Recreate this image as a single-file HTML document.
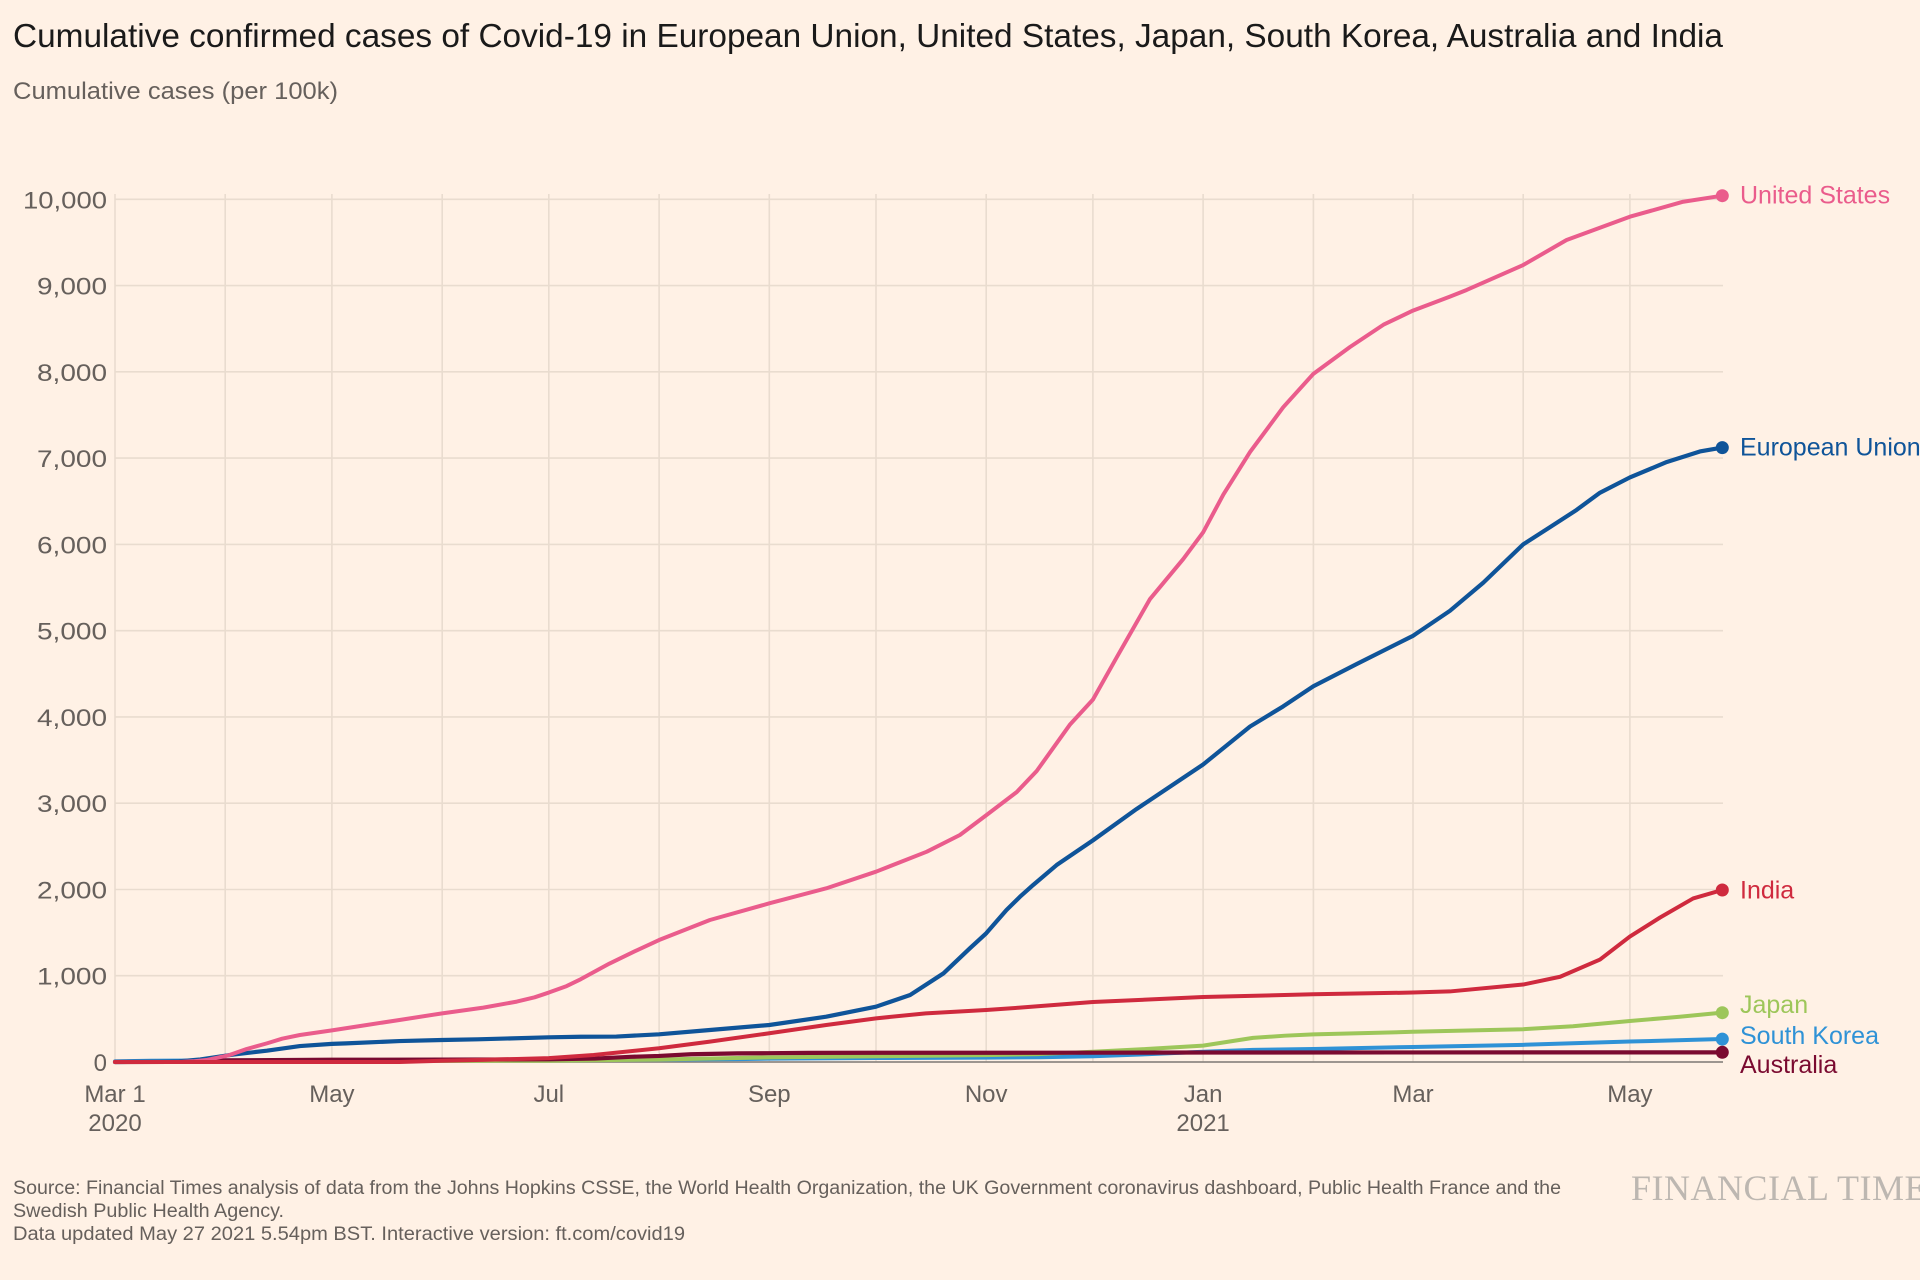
<!DOCTYPE html>
<html>
<head>
<meta charset="utf-8">
<style>
  html,body{margin:0;padding:0;background:#fff1e5;}
  svg{display:block;}
  .sans{font-family:"Liberation Sans",Arial,sans-serif;}
  .serif{font-family:"Liberation Serif","Times New Roman",serif;}
</style>
</head>
<body>
<svg width="1920" height="1280" viewBox="0 0 1920 1280" xmlns="http://www.w3.org/2000/svg">
  <rect x="0" y="0" width="1920" height="1280" fill="#fff1e5"/>

  <!-- Title -->
  <text class="sans" x="13" y="47" font-size="33" fill="#1a1a1a" textLength="1710" lengthAdjust="spacingAndGlyphs">Cumulative confirmed cases of Covid-19 in European Union, United States, Japan, South Korea, Australia and India</text>
  <text class="sans" x="13" y="99" font-size="24" fill="#66605c" textLength="325" lengthAdjust="spacingAndGlyphs">Cumulative cases (per 100k)</text>

  <!-- Horizontal gridlines -->
  <g stroke="#e9dccf" stroke-width="1.6">
    <line x1="115" x2="1723" y1="975.7" y2="975.7"/>
    <line x1="115" x2="1723" y1="889.5" y2="889.5"/>
    <line x1="115" x2="1723" y1="803.2" y2="803.2"/>
    <line x1="115" x2="1723" y1="716.9" y2="716.9"/>
    <line x1="115" x2="1723" y1="630.7" y2="630.7"/>
    <line x1="115" x2="1723" y1="544.4" y2="544.4"/>
    <line x1="115" x2="1723" y1="458.1" y2="458.1"/>
    <line x1="115" x2="1723" y1="371.8" y2="371.8"/>
    <line x1="115" x2="1723" y1="285.6" y2="285.6"/>
    <line x1="115" x2="1723" y1="199.3" y2="199.3"/>
  </g>
  <!-- Vertical gridlines -->
  <g stroke="#e9dccf" stroke-width="1.6">
    <line x1="115" x2="115" y1="194" y2="1062"/>
    <line x1="225.2" x2="225.2" y1="194" y2="1062"/>
    <line x1="331.9" x2="331.9" y1="194" y2="1062"/>
    <line x1="442.2" x2="442.2" y1="194" y2="1062"/>
    <line x1="548.8" x2="548.8" y1="194" y2="1062"/>
    <line x1="659.1" x2="659.1" y1="194" y2="1062"/>
    <line x1="769.3" x2="769.3" y1="194" y2="1062"/>
    <line x1="876.0" x2="876.0" y1="194" y2="1062"/>
    <line x1="986.2" x2="986.2" y1="194" y2="1062"/>
    <line x1="1092.9" x2="1092.9" y1="194" y2="1062"/>
    <line x1="1203.1" x2="1203.1" y1="194" y2="1062"/>
    <line x1="1313.4" x2="1313.4" y1="194" y2="1062"/>
    <line x1="1413.0" x2="1413.0" y1="194" y2="1062"/>
    <line x1="1523.2" x2="1523.2" y1="194" y2="1062"/>
    <line x1="1629.9" x2="1629.9" y1="194" y2="1062"/>
  </g>
  <!-- Zero axis -->
  <line x1="115" x2="1723" y1="1062" y2="1062" stroke="#8f8983" stroke-width="1.8"/>

  <!-- Y tick labels -->
  <g class="sans" font-size="24" fill="#66605c" text-anchor="end">
    <text x="107" y="208.3" textLength="84" lengthAdjust="spacingAndGlyphs">10,000</text>
    <text x="107" y="294.6" textLength="70" lengthAdjust="spacingAndGlyphs">9,000</text>
    <text x="107" y="380.8" textLength="70" lengthAdjust="spacingAndGlyphs">8,000</text>
    <text x="107" y="467.1" textLength="70" lengthAdjust="spacingAndGlyphs">7,000</text>
    <text x="107" y="553.4" textLength="70" lengthAdjust="spacingAndGlyphs">6,000</text>
    <text x="107" y="639.7" textLength="70" lengthAdjust="spacingAndGlyphs">5,000</text>
    <text x="107" y="725.9" textLength="70" lengthAdjust="spacingAndGlyphs">4,000</text>
    <text x="107" y="812.2" textLength="70" lengthAdjust="spacingAndGlyphs">3,000</text>
    <text x="107" y="898.5" textLength="70" lengthAdjust="spacingAndGlyphs">2,000</text>
    <text x="107" y="984.7" textLength="70" lengthAdjust="spacingAndGlyphs">1,000</text>
    <text x="107" y="1071">0</text>
  </g>

  <!-- X tick labels -->
  <g class="sans" font-size="24" fill="#66605c" text-anchor="middle">
    <text x="115" y="1102">Mar 1</text>
    <text x="115" y="1131">2020</text>
    <text x="331.9" y="1102">May</text>
    <text x="548.8" y="1102">Jul</text>
    <text x="769.3" y="1102">Sep</text>
    <text x="986.2" y="1102">Nov</text>
    <text x="1203.1" y="1102">Jan</text>
    <text x="1203.1" y="1131">2021</text>
    <text x="1413.0" y="1102">Mar</text>
    <text x="1629.9" y="1102">May</text>
  </g>

  <!-- Series -->
  <g transform="translate(115,1062) scale(3.556,-0.08627)" fill="none" stroke-linejoin="round" stroke-linecap="round">
    <!-- South Korea -->
    <polyline vector-effect="non-scaling-stroke" stroke="#2f92d6" stroke-width="4"
      points="0,7 10,15 31,19 61,21 92,22 122,25 153,28 175,34 184,39 214,46 245,51 260,55 275,67 290,90 306,119 320,140 337,151 365,174 396,199 426,237 452,266"/>
    <!-- Japan -->
    <polyline vector-effect="non-scaling-stroke" stroke="#9dc65a" stroke-width="4"
      points="0,0.2 31,2 61,11 92,13.5 122,15 153,29 184,54 214,66 245,80 260,92 275,119 290,150 306,190 320,280 329,305 337,320 365,350 396,380 410,415 426,475 440,525 452,572"/>
    <!-- Australia -->
    <polyline vector-effect="non-scaling-stroke" stroke="#7a0a30" stroke-width="4.2"
      points="0,0.1 15,1 20,5 31,19 61,26 92,28 122,31 135,40 145,60 153,70 162,90 175,100 184,102 195,106 214,107 275,108 306,110 365,111 452,112"/>
    <!-- European Union -->
    <polyline vector-effect="non-scaling-stroke" stroke="#0f5499" stroke-width="4.2"
      points="0,0 12,2 18,8 24,30 33,85 42.7,131 52,185 61,210 65,216 80,243 92,255 102,263 122,286 131,293 141,295 153,321 167.3,371 184,429 200,525 214,641 223.6,777 233,1028 240.4,1318 245,1492 250.7,1762 254.5,1916 258.2,2052 264.8,2283 275,2569 287.3,2933 295.7,3164 306,3449 319.2,3889 328.5,4122 337,4355 349.2,4613 365,4940 375.4,5230 384.8,5557 396,6000 403.5,6199 411,6399 417.6,6599 426,6776 436.4,6955 445.7,7077 452,7122"/>
    <!-- United States -->
    <polyline vector-effect="non-scaling-stroke" stroke="#ea5c8c" stroke-width="4"
      points="0,0 18,0 22,8 26,25 32,78 37,150 42.7,216 47,270 52,313 61,367 70.8,429 80,487 92,564 103.6,630 113,700 118,750 122,805 127,880 131,960 139,1140 146,1280 153,1414 167.3,1646 184,1839 200,2013 214,2206 228.3,2438 237.6,2631 245,2860 253.6,3130 259.2,3373 268.6,3914 275,4200 281.7,4691 291,5363 300.4,5830 306,6140 311.7,6579 319.2,7071 328.5,7589 337,7977 347.3,8288 356.7,8546 365,8710 375.4,8872 380.1,8949 396,9238 408.2,9528 426,9798 441,9972 452,10042"/>
    <!-- India -->
    <polyline vector-effect="non-scaling-stroke" stroke="#cf2a3e" stroke-width="4"
      points="0,0 80,0 92,14 103,25 113,35 122,45 125,54 134.6,81 153,159 167.3,236 184,333 200,429 214,506 228,564 245,603 254,629 275,695 306,753 337,785 365,805 375.4,818 396,898 406.4,988 417.6,1187 426,1454 434.5,1675 443.8,1896 452,1994"/>
  </g>

  <!-- End dots -->
  <circle cx="1722.3" cy="195.7" r="6.5" fill="#ea5c8c"/>
  <circle cx="1722.3" cy="447.6" r="6.5" fill="#0f5499"/>
  <circle cx="1722.3" cy="890" r="6.5" fill="#cf2a3e"/>
  <circle cx="1722.3" cy="1012.7" r="6.5" fill="#9dc65a"/>
  <circle cx="1722.3" cy="1039.1" r="6.5" fill="#2f92d6"/>
  <circle cx="1722.3" cy="1052.3" r="6.5" fill="#7a0a30"/>

  <!-- Series labels -->
  <g class="sans" font-size="25">
    <text x="1740" y="203.5" fill="#ea5c8c">United States</text>
    <text x="1740" y="455.5" fill="#0f5499">European Union</text>
    <text x="1740" y="898.5" fill="#cf2a3e">India</text>
    <text x="1740" y="1013" fill="#9dc65a">Japan</text>
    <text x="1740" y="1044" fill="#2f92d6">South Korea</text>
    <text x="1740" y="1073" fill="#7a0a30">Australia</text>
  </g>

  <!-- Footer -->
  <g class="sans" font-size="19" fill="#66605c">
    <text x="13" y="1194" textLength="1548" lengthAdjust="spacingAndGlyphs">Source: Financial Times analysis of data from the Johns Hopkins CSSE, the World Health Organization, the UK Government coronavirus dashboard, Public Health France and the</text>
    <text x="13" y="1217" textLength="271" lengthAdjust="spacingAndGlyphs">Swedish Public Health Agency.</text>
    <text x="13" y="1240" textLength="672" lengthAdjust="spacingAndGlyphs">Data updated May 27 2021 5.54pm BST. Interactive version: ft.com/covid19</text>
  </g>

  <!-- FT logo -->
  <text class="serif" x="1631" y="1200" font-size="36" fill="#bdb7b1" letter-spacing="0.5">FINANCIAL TIMES</text>
</svg>
</body>
</html>
